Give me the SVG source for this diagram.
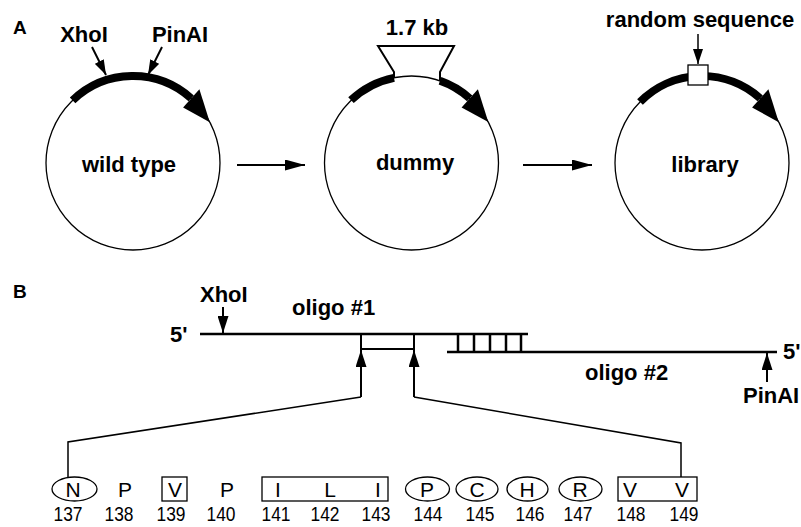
<svg xmlns="http://www.w3.org/2000/svg" width="801" height="527" viewBox="0 0 801 527">
<defs>
<marker id="ah" markerUnits="userSpaceOnUse" markerWidth="15" markerHeight="10" refX="15" refY="5" orient="auto"><path d="M0,0 L15,5 L0,10 z" fill="#000"/></marker>
<marker id="ahl" markerUnits="userSpaceOnUse" markerWidth="20" markerHeight="11" refX="20" refY="5.5" orient="auto"><path d="M0,0 L20,5.5 L0,11 z" fill="#000"/></marker>
<marker id="ahb" markerUnits="userSpaceOnUse" markerWidth="17" markerHeight="11" refX="17" refY="5.5" orient="auto"><path d="M0,0 L17,5.5 L0,11 z" fill="#000"/></marker>
</defs>
<style>
.b{font-family:"Liberation Sans",Arial,sans-serif;font-weight:bold;font-size:22px;fill:#000}
.r{font-family:"Liberation Sans",Arial,sans-serif;font-size:21px;fill:#000;text-anchor:middle}
.n{font-family:"Liberation Sans",Arial,sans-serif;font-size:20px;fill:#000;text-anchor:middle}
.c{fill:none;stroke:#000;stroke-width:1.3}
.thick{fill:none;stroke:#000;stroke-width:8}
.ln{fill:none;stroke:#000;stroke-width:1.5}
.dna{fill:none;stroke:#000;stroke-width:2.5}
.mk{fill:none;stroke:#000;stroke-width:1.3}
</style>
<rect width="801" height="527" fill="#fff"/>
<text class="b" x="13" y="34" style="font-size:19px">A</text>
<text class="b" x="13" y="298" style="font-size:19px">B</text>

<g id="wildtype">
<circle class="c" cx="133" cy="163" r="87"/>
<path class="thick" d="M72.6,100.4 A87,87 0 0 1 191.2,98.4"/>
<path d="M183.1,107.4 L199.4,89.3 L209.8,122.2 z" fill="#000"/>
<text class="b" x="129" y="172" text-anchor="middle">wild type</text>
<text class="b" x="84" y="42" text-anchor="middle">XhoI</text>
<text class="b" x="180" y="42" text-anchor="middle">PinAI</text>
</g>

<g id="dummy">
<circle class="c" cx="411.5" cy="163" r="87"/>
<path class="thick" d="M351,100.2 A87,87 0 0 1 394,77.8"/>
<path class="thick" d="M440,80.8 A87,87 0 0 1 469.7,98.4"/>
<path d="M461.6,107.4 L477.9,89.3 L488.3,122 z" fill="#000"/>
<polyline class="ln" style="stroke-width:2" points="394,78 394,72 378,46 454,46 440,72 440,81"/>
<text class="b" x="417" y="35" text-anchor="middle">1.7 kb</text>
<text class="b" x="415" y="170" text-anchor="middle">dummy</text>
</g>

<g id="library">
<circle class="c" cx="702" cy="163" r="87"/>
<path class="thick" d="M640,102 A87,87 0 0 1 760.2,98.4"/>
<path d="M752.1,107.4 L768.4,89.3 L778.8,122.2 z" fill="#000"/>
<rect x="688" y="65" width="20" height="20" fill="#fff" stroke="#000" stroke-width="1.3"/>
<text class="b" x="700" y="27" text-anchor="middle">random sequence</text>
<text class="b" x="705" y="172" text-anchor="middle">library</text>
</g>

<g id="oligos">
<line class="dna" x1="200" y1="334" x2="528" y2="334"/>
<rect x="361" y="334" width="53" height="15" fill="none" stroke="#000" stroke-width="2"/>
<line class="dna" x1="447" y1="352" x2="777" y2="352"/>
<path class="dna" d="M458,334 V352 M474,334 V352 M490,334 V352 M506,334 V352 M521,334 V352"/>
<text class="b" x="170" y="342">5'</text>
<text class="b" x="783" y="359">5'</text>
<text class="b" x="292" y="315">oligo #1</text>
<text class="b" x="585" y="380">oligo #2</text>
<text class="b" x="200" y="302">XhoI</text>
<text class="b" x="743" y="403">PinAI</text>
</g>

<g id="connectors">
<line class="ln" style="stroke-width:2" x1="92" y1="47" x2="106" y2="75" marker-end="url(#ah)"/>
<line class="ln" style="stroke-width:2" x1="162" y1="47" x2="148" y2="75" marker-end="url(#ah)"/>
<line class="ln" x1="698" y1="34" x2="698" y2="64" marker-end="url(#ah)"/>
<line class="ln" style="stroke-width:2" x1="237" y1="165" x2="305" y2="165" marker-end="url(#ahl)"/>
<line class="ln" style="stroke-width:2" x1="523" y1="165" x2="592" y2="165" marker-end="url(#ahl)"/>
<line class="ln" style="stroke-width:2" x1="223" y1="307" x2="223" y2="333" marker-end="url(#ahb)"/>
<line class="ln" style="stroke-width:2" x1="767" y1="382" x2="767" y2="353" marker-end="url(#ahb)"/>
<line class="ln" style="stroke-width:2" x1="361" y1="397" x2="361" y2="350" marker-end="url(#ahb)"/>
<line class="ln" style="stroke-width:2" x1="414" y1="397" x2="414" y2="350" marker-end="url(#ahb)"/>
<polyline class="ln" points="361,397 68,442 68,477"/>
<polyline class="ln" points="414,397 681,443 681,477"/>
</g>

<g id="residues">
<ellipse class="mk" cx="74.5" cy="489" rx="22.5" ry="12"/>
<rect class="mk" x="162" y="477" width="25" height="24"/>
<rect class="mk" x="262" y="477" width="126" height="24"/>
<ellipse class="mk" cx="427.5" cy="489" rx="22" ry="12"/>
<ellipse class="mk" cx="477" cy="489" rx="21" ry="12"/>
<ellipse class="mk" cx="527.5" cy="489" rx="20.5" ry="12"/>
<ellipse class="mk" cx="580.5" cy="489" rx="21.5" ry="12"/>
<rect class="mk" x="618" y="477" width="79" height="24"/>
<text class="r" x="73" y="497">N</text>
<text class="r" x="125" y="497">P</text>
<text class="r" x="175" y="497">V</text>
<text class="r" x="227" y="497">P</text>
<text class="r" x="278" y="497">I</text>
<text class="r" x="330" y="497">L</text>
<text class="r" x="378" y="497">I</text>
<text class="r" x="427" y="497">P</text>
<text class="r" x="477" y="497">C</text>
<text class="r" x="527" y="497">H</text>
<text class="r" x="580" y="497">R</text>
<text class="r" x="630" y="497">V</text>
<text class="r" x="682" y="497">V</text>
<g class="n">
<text x="68" y="521" textLength="29" lengthAdjust="spacingAndGlyphs">137</text>
<text x="119" y="521" textLength="29" lengthAdjust="spacingAndGlyphs">138</text>
<text x="171" y="521" textLength="29" lengthAdjust="spacingAndGlyphs">139</text>
<text x="221" y="521" textLength="29" lengthAdjust="spacingAndGlyphs">140</text>
<text x="276" y="521" textLength="29" lengthAdjust="spacingAndGlyphs">141</text>
<text x="325" y="521" textLength="29" lengthAdjust="spacingAndGlyphs">142</text>
<text x="376" y="521" textLength="29" lengthAdjust="spacingAndGlyphs">143</text>
<text x="428" y="521" textLength="29" lengthAdjust="spacingAndGlyphs">144</text>
<text x="480" y="521" textLength="29" lengthAdjust="spacingAndGlyphs">145</text>
<text x="530" y="521" textLength="29" lengthAdjust="spacingAndGlyphs">146</text>
<text x="578" y="521" textLength="29" lengthAdjust="spacingAndGlyphs">147</text>
<text x="631" y="521" textLength="29" lengthAdjust="spacingAndGlyphs">148</text>
<text x="684" y="521" textLength="29" lengthAdjust="spacingAndGlyphs">149</text>
</g>
</g>
</svg>
